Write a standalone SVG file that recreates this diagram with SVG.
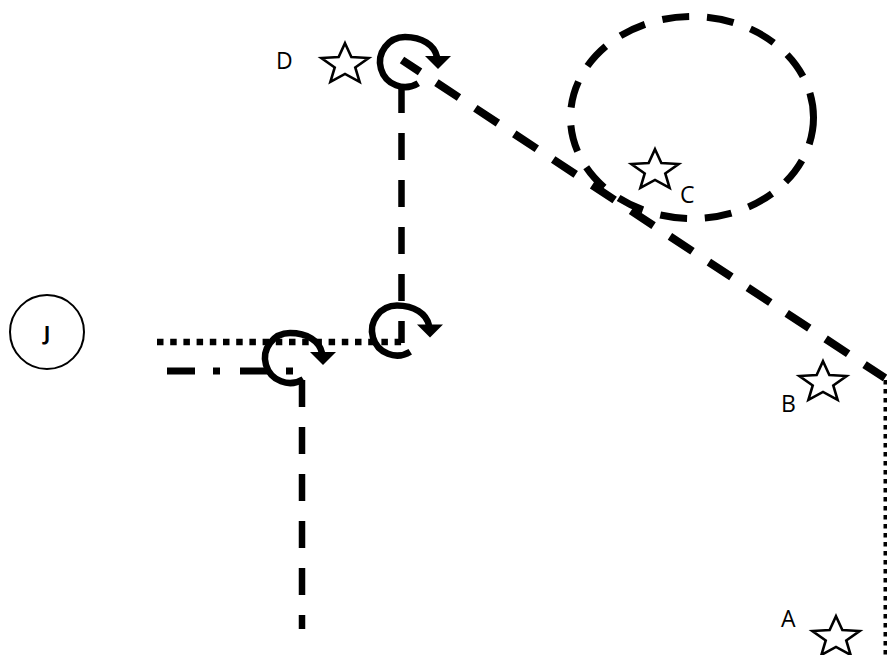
<svg xmlns="http://www.w3.org/2000/svg" width="887" height="655" viewBox="0 0 887 655">
<defs>
<style>
.ln{fill:none;stroke:#000;stroke-linecap:butt}
.star{fill:#fff;stroke:#000;stroke-width:2.6;stroke-linejoin:miter}
.lbl{font-family:"Open Sans","Liberation Sans",sans-serif;font-size:23px;fill:#000}
.arc{fill:none;stroke:#000;stroke-width:6.5}
</style>
<g id="rot">
<path class="arc" d="M 13.25 21.2 A 25 25 0 1 1 0 -25 C 17 -25 29.5 -17 32 -5"/>
<polygon points="20,-6 46,-6 33,7" fill="#000"/>
</g>
<polygon id="st" points="0,-21.4 6.35,-7.52 23.62,-6.61 10.27,2.87 14.6,17.31 0,9.3 -14.6,17.31 -10.27,2.87 -23.62,-6.61 -6.35,-7.52"/>
</defs>
<rect width="887" height="655" fill="#fff"/>
<g id="connectors">
<ellipse class="ln" cx="692" cy="117.5" rx="121.5" ry="101" stroke-width="7" stroke-dasharray="27 18"/>
<line class="ln" x1="402" y1="60" x2="885" y2="378" stroke-width="8" stroke-dasharray="27 19.6" stroke-dashoffset="5.4"/>
<line class="ln" x1="885.5" y1="380" x2="885.5" y2="655" stroke-width="4" stroke-dasharray="4.5 4.5"/>
<line class="ln" x1="401.5" y1="86" x2="401.5" y2="343" stroke-width="6.5" stroke-dasharray="27 20"/>
<line class="ln" x1="157" y1="342" x2="403" y2="342" stroke-width="6.5" stroke-dasharray="6.5 6.7"/>
<line class="ln" x1="167" y1="371" x2="294" y2="371" stroke-width="7" stroke-dasharray="28 18 7 20"/>
<line class="ln" x1="302" y1="380" x2="302" y2="629" stroke-width="6.5" stroke-dasharray="27 20"/>
</g>
<g id="rot-D"><use href="#rot" transform="translate(405,62)"/></g>
<g id="rot-mid"><use href="#rot" transform="translate(397,330.5)"/></g>
<g id="rot-left"><use href="#rot" transform="translate(290,358)"/></g>
<g id="node-J">
<circle cx="47" cy="332" r="37" fill="none" stroke="#000" stroke-width="2"/>
<text x="47" y="340" text-anchor="middle" font-family="'Open Sans','Liberation Sans',sans-serif" font-weight="bold" font-size="20">J</text>
</g>
<g id="node-D">
<use href="#st" class="star" transform="translate(345,64.6)"/>
<text class="lbl" x="276" y="69">D</text>
</g>
<g id="node-C">
<use href="#st" class="star" transform="translate(655,170.6)"/>
<text class="lbl" x="680" y="203">C</text>
</g>
<g id="node-B">
<use href="#st" class="star" transform="translate(823,382.6)"/>
<text class="lbl" x="781" y="412">B</text>
</g>
<g id="node-A">
<use href="#st" class="star" transform="translate(836,637.6)"/>
<text class="lbl" x="781" y="627">A</text>
</g>
</svg>
